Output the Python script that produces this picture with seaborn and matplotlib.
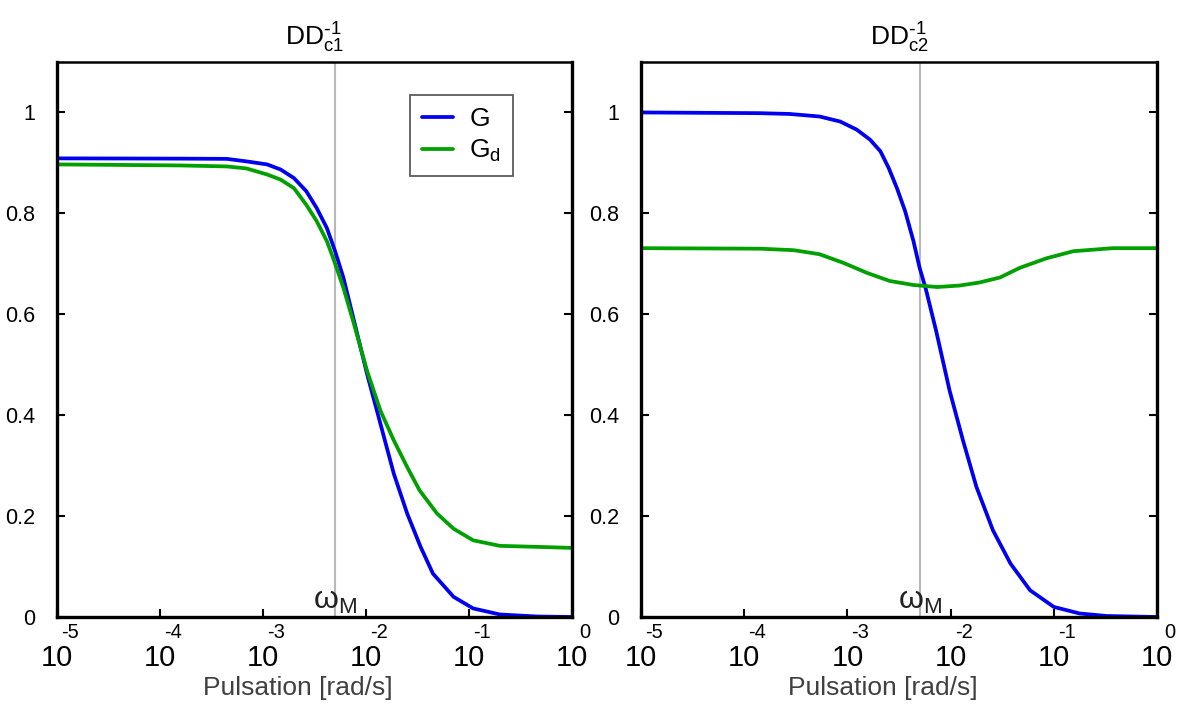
import numpy as np
import pandas as pd
import matplotlib
matplotlib.use("Agg")
import matplotlib.pyplot as plt
import matplotlib.transforms as mtransforms
from matplotlib.lines import Line2D
import seaborn as sns

# valeurs (exposant log10 de la pulsation, amplitude)
left_G_exp = [-5.0, -3.81, -3.35, -3.16, -2.96, -2.83, -2.70, -2.58, -2.48, -2.38, -2.30,
              -2.22, -2.12, -1.99, -1.86, -1.73, -1.60, -1.47, -1.35, -1.15, -0.96,
              -0.70, -0.34, 0.0]
left_G_val = [0.909, 0.9085, 0.908, 0.903, 0.897, 0.887, 0.870, 0.844, 0.811, 0.771, 0.725,
              0.673, 0.590, 0.482, 0.383, 0.284, 0.205, 0.139, 0.086, 0.040, 0.017,
              0.005, 0.001, 0.0]

left_Gd_exp = [-5.0, -3.81, -3.35, -3.16, -2.96, -2.83, -2.70, -2.58, -2.48, -2.38, -2.32,
               -2.22, -2.12, -1.99, -1.86, -1.73, -1.60, -1.48, -1.31, -1.15, -0.96,
               -0.70, -0.34, 0.0]
left_Gd_val = [0.897, 0.895, 0.893, 0.889, 0.877, 0.867, 0.850, 0.817, 0.785, 0.745, 0.712,
               0.653, 0.583, 0.488, 0.409, 0.350, 0.297, 0.251, 0.205, 0.175, 0.152,
               0.141, 0.139, 0.137]

right_G_exp = [-5.0, -3.85, -3.56, -3.27, -3.07, -2.91, -2.78, -2.68, -2.60, -2.52, -2.44,
               -2.36, -2.30, -2.24, -2.14, -2.01, -1.88, -1.75, -1.59, -1.42, -1.23,
               -1.00, -0.75, -0.49, 0.0]
right_G_val = [1.0, 0.9986, 0.997, 0.992, 0.982, 0.966, 0.946, 0.923, 0.890, 0.850, 0.804,
               0.745, 0.692, 0.650, 0.567, 0.449, 0.350, 0.258, 0.172, 0.106, 0.053,
               0.020, 0.007, 0.002, 0.0]

right_Gd_exp = [-5.0, -3.85, -3.52, -3.27, -3.04, -2.81, -2.59, -2.36, -2.13, -1.91, -1.72,
                -1.52, -1.33, -1.07, -0.81, -0.43, 0.0]
right_Gd_val = [0.731, 0.730, 0.727, 0.719, 0.702, 0.682, 0.666, 0.658, 0.654, 0.657, 0.663,
                0.673, 0.692, 0.711, 0.725, 0.731, 0.731]

omega_M_exp = -2.3
titles = [r"DD$_{c1}^{\text{-}1}$", r"DD$_{c2}^{\text{-}1}$"]
x_exps = [-5, -4, -3, -2, -1, 0]
y_ticks = [0, 0.2, 0.4, 0.6, 0.8, 1]
y_labels = ["0", "0.2", "0.4", "0.6", "0.8", "1"]


def make_df(exp_G, val_G, exp_Gd, val_Gd):
    d1 = pd.DataFrame({"w": 10.0 ** np.array(exp_G), "amp": val_G, "courbe": "G"})
    d2 = pd.DataFrame({"w": 10.0 ** np.array(exp_Gd), "amp": val_Gd, "courbe": "Gd"})
    return pd.concat([d1, d2], ignore_index=True)


panels = [make_df(left_G_exp, left_G_val, left_Gd_exp, left_Gd_val),
          make_df(right_G_exp, right_G_val, right_Gd_exp, right_Gd_val)]

sns.set_style("white")
plt.rcParams["font.family"] = ["Liberation Sans", "DejaVu Sans"]
plt.rcParams["mathtext.default"] = "regular"
plt.rcParams["text.color"] = "black"
plt.rcParams["xtick.color"] = "black"
plt.rcParams["ytick.color"] = "black"

fig = plt.figure(figsize=(11.78, 7.07), dpi=100)
axes = [fig.add_axes([57/1178, 90/707, 515/1178, 555/707]),
        fig.add_axes([641/1178, 90/707, 516/1178, 555/707])]

couleurs = {"G": "#0000f0", "Gd": "#00a000"}

for i, ax in enumerate(axes):
    sns.lineplot(data=panels[i], x="w", y="amp", hue="courbe", palette=couleurs,
                 linewidth=2.7, ax=ax, legend=False, sort=False)
    ax.set_xscale("log")
    ax.set_xlim(1e-5, 1)
    ax.set_ylim(0, 1.1)
    ax.axvline(10 ** omega_M_exp, color="#b8b8b8", lw=1.5, zorder=0)
    ax.text(10 ** omega_M_exp, 0.002, r"$\omega_M$", ha="center", va="bottom",
            fontsize=23, color="#222222")

    for s in ax.spines.values():
        s.set_linewidth(2.4)
        s.set_color("black")
    ax.spines["top"].set_linewidth(1.8)

    ax.set_yticks(y_ticks)
    ax.set_yticklabels(y_labels)
    ax.tick_params(axis="y", direction="in", left=True, right=True, length=6, width=1.5,
                   labelsize=15.5, pad=16, labelcolor="black")
    ax.set_xticks([10.0 ** e for e in x_exps])
    ax.set_xticklabels([])
    ax.xaxis.set_minor_locator(matplotlib.ticker.NullLocator())
    ax.tick_params(axis="x", direction="in", bottom=True, top=False, length=6, width=1.5)

    # étiquettes style matlab : exposant au-dessus, 10 en dessous
    tr = mtransforms.blended_transform_factory(ax.transData, ax.transAxes)
    tr_exp = tr + mtransforms.ScaledTranslation(13/100, 0, fig.dpi_scale_trans)
    for e in x_exps:
        ax.text(10.0 ** e, -15/555, str(e), transform=tr_exp, ha="center", va="center",
                fontsize=14.5, color="black")
        ax.text(10.0 ** e, -41/555, "10", transform=tr, ha="center", va="center",
                fontsize=21, color="black")

    ax.text(0.468, -71/555, "Pulsation [rad/s]", transform=ax.transAxes, ha="center",
            va="center", fontsize=19, color="#404040")
    ax.set_xlabel("")
    ax.set_ylabel("")
    ax.set_title(titles[i], fontsize=19, pad=12, color="black")

handles = [Line2D([], [], color=couleurs["G"], lw=2.7),
           Line2D([], [], color=couleurs["Gd"], lw=2.7)]
leg = axes[0].legend(handles, ["G", r"G$_d$"], loc="upper left",
                     bbox_to_anchor=(0.685, 0.94), borderaxespad=0, fontsize=19,
                     frameon=True, fancybox=False, handlelength=1.2, handletextpad=0.6,
                     borderpad=0.45, labelspacing=0.25)
leg.get_frame().set_edgecolor("#333333")
leg.get_frame().set_linewidth(1.3)
for t in leg.get_texts():
    t.set_color("black")

fig.savefig("out.png", dpi=100)
